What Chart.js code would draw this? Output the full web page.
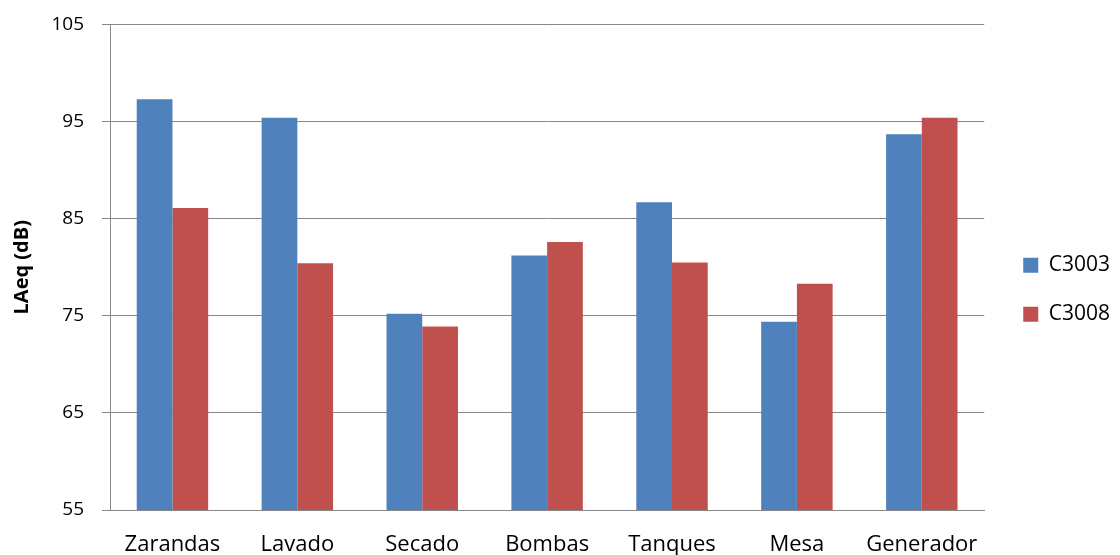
<!DOCTYPE html>
<html>
<head>
<meta charset="utf-8">
<script src="https://cdn.jsdelivr.net/npm/chart.js@4/dist/chart.umd.min.js"></script>
<style>
  html, body { margin: 0; padding: 0; background: #ffffff; }
  #wrap { width: 1120px; height: 555px; }
</style>
</head>
<body>
<div id="wrap"><canvas id="c" width="1120" height="555"></canvas></div>
<script>
// Equivalent continuous sound level per area, two measuring devices
const categories = ['Zarandas', 'Lavado', 'Secado', 'Bombas', 'Tanques', 'Mesa', 'Generador'];
const seriesNames = ['C3003', 'C3008'];
const c3003 = [97.3, 95.4, 75.2, 81.2, 86.7, 74.4, 93.7];
const c3008 = [86.1, 80.4, 73.9, 82.6, 80.5, 78.3, 95.4];
const yMin = 55;
const yMax = 105;
const yStep = 10;
const yTitle = 'LAeq (dB)';

const gridGray = '#878787';
const fontFamily = '"Open Sans", sans-serif';

new Chart(document.getElementById('c'), {
  type: 'bar',
  data: {
    labels: categories,
    datasets: [
      { label: seriesNames[0], data: c3003, backgroundColor: '#4F81BD', borderWidth: 0 },
      { label: seriesNames[1], data: c3008, backgroundColor: '#C0504D', borderWidth: 0 }
    ]
  },
  options: {
    responsive: false,
    animation: false,
    devicePixelRatio: 1,
    layout: { padding: { top: 24.5, right: 0, bottom: 0, left: 0 } },
    datasets: {
      bar: { barPercentage: 1.0, categoryPercentage: 0.572 }
    },
    plugins: {
      tooltip: { enabled: false },
      legend: {
        position: 'right',
        align: 'center',
        labels: {
          boxWidth: 15,
          boxHeight: 15,
          padding: 28,
          color: '#000000',
          font: { family: fontFamily, size: 21 }
        }
      }
    },
    scales: {
      x: {
        grid: { display: false, drawTicks: false, tickLength: 0 },
        border: { display: true, color: gridGray, width: 1 },
        ticks: {
          color: '#000000',
          padding: 26,
          font: { family: fontFamily, size: 22, lineHeight: '18px' }
        },
        afterFit(scale) { scale.height = 45; }
      },
      y: {
        min: yMin,
        max: yMax,
        grid: { color: gridGray, lineWidth: 1, drawTicks: true, tickLength: 8, tickColor: gridGray },
        border: { display: true, color: gridGray, width: 1 },
        ticks: {
          stepSize: yStep,
          color: '#000000',
          padding: 18,
          font: { family: fontFamily, size: 19, lineHeight: '10px' }
        },
        title: {
          display: true,
          text: yTitle,
          color: '#000000',
          padding: { top: 10, bottom: 4 },
          font: { family: fontFamily, size: 20, weight: 'bold', lineHeight: 1.2 }
        },
        afterFit(scale) { scale.width = 110; }
      },
      // spacer between plot and legend
      gap: {
        position: 'right',
        display: true,
        grid: { display: false, drawTicks: false },
        border: { display: false },
        ticks: { display: false },
        afterFit(scale) { scale.width = 11; }
      }
    }
  }
});
</script>
</body>
</html>
